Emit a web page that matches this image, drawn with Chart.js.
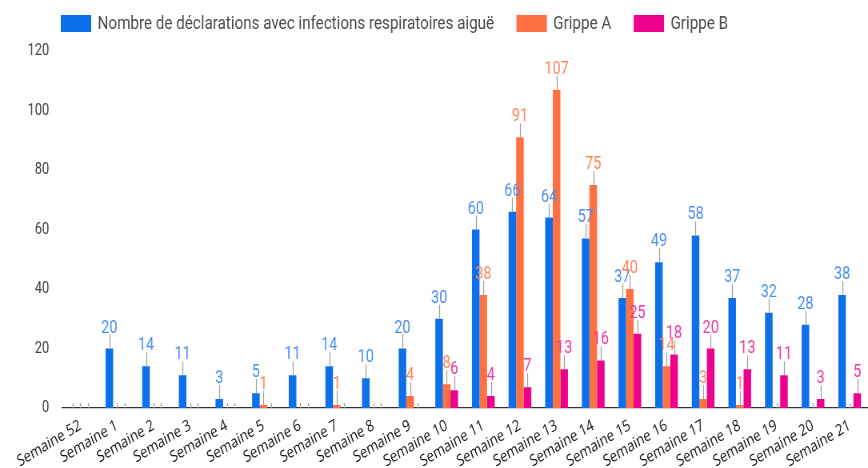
<!DOCTYPE html>
<html>
<head>
<meta charset="utf-8">
<script src="https://cdn.jsdelivr.net/npm/chart.js@4.4.1/dist/chart.umd.min.js"></script>
<style>
  html, body { margin: 0; padding: 0; background: #fff; overflow: hidden; }
</style>
</head>
<body>
<!-- the reference is squeezed horizontally, so the canvas is drawn wider and shown at 868px -->
<canvas id="grippe" width="1085" height="468" style="display:block;width:868px;height:468px"></canvas>
<script>
var semaines = ['Semaine 52', 'Semaine 1', 'Semaine 2', 'Semaine 3', 'Semaine 4', 'Semaine 5',
    'Semaine 6', 'Semaine 7', 'Semaine 8', 'Semaine 9', 'Semaine 10', 'Semaine 11',
    'Semaine 12', 'Semaine 13', 'Semaine 14', 'Semaine 15', 'Semaine 16', 'Semaine 17',
    'Semaine 18', 'Semaine 19', 'Semaine 20', 'Semaine 21'];
var declarations = [0, 20, 14, 11, 3, 5, 11, 14, 10, 20, 30, 60, 66, 64, 57, 37, 49, 58, 37, 32, 28, 38];
var grippeA = [0, 0, 0, 0, 0, 1, 0, 1, 0, 4, 8, 38, 91, 107, 75, 40, 14, 3, 1, 0, 0, 0];
var grippeB = [0, 0, 0, 0, 0, 0, 0, 0, 0, 0, 6, 4, 7, 13, 16, 25, 18, 20, 13, 11, 3, 5];
var yTicks = [0, 20, 40, 60, 80, 100, 120];

var barColors = ['#0b70ea', '#ff7043', '#ec008c'];
var labelColors = ['#4a8ff0', '#ff8660', '#f03a9e'];

// value labels sitting on a small grey stem above each bar
var stemLabels = {
    id: 'stemLabels',
    afterDatasetsDraw: function (chart) {
        var ctx = chart.ctx;
        chart.data.datasets.forEach(function (ds, i) {
            chart.getDatasetMeta(i).data.forEach(function (bar, j) {
                var v = ds.data[j];
                var stem = v ? 14 : 5;
                var x = Math.round(bar.x) + 0.5;
                ctx.save();
                ctx.strokeStyle = '#a0a0a0';
                ctx.lineWidth = 1.25;
                ctx.beginPath();
                ctx.moveTo(x, bar.y);
                ctx.lineTo(x, bar.y - stem);
                ctx.stroke();
                if (v) {
                    ctx.fillStyle = labelColors[i];
                    ctx.font = '18px Roboto';
                    ctx.textAlign = 'center';
                    ctx.textBaseline = 'alphabetic';
                    ctx.fillText(String(v), bar.x, bar.y - stem - 2);
                }
                ctx.restore();
            });
        });
    }
};

// legend drawn by hand so it can sit left, over the plot
var topLegend = {
    id: 'topLegend',
    afterDraw: function (chart) {
        var ctx = chart.ctx;
        var x = 76;
        ctx.save();
        ctx.font = '19px Roboto';
        ctx.textBaseline = 'middle';
        ctx.textAlign = 'left';
        chart.data.datasets.forEach(function (ds) {
            ctx.fillStyle = ds.backgroundColor;
            ctx.fillRect(x, 15, 38, 17);
            ctx.fillStyle = '#4a4a4a';
            ctx.fillText(ds.label, x + 46, 24);
            x += 46 + ctx.measureText(ds.label).width + 28;
        });
        ctx.restore();
    }
};

var ctx = document.getElementById('grippe');
var grippe = new Chart(ctx, {
    type: 'bar',
    data: {
        labels: semaines,
        datasets: [{
            label: 'Nombre de déclarations avec infections respiratoires aiguë',
            data: declarations,
            backgroundColor: barColors[0]
        }, {
            label: 'Grippe A',
            data: grippeA,
            backgroundColor: barColors[1]
        }, {
            label: 'Grippe B',
            data: grippeB,
            backgroundColor: barColors[2]
        }]
    },
    options: {
        responsive: false,
        devicePixelRatio: 1,
        animation: false,
        layout: { padding: { top: 51, left: 0, right: 0, bottom: 0 } },
        datasets: {
            bar: { categoryPercentage: 0.62, barPercentage: 1 }
        },
        plugins: {
            legend: { display: false },
            tooltip: { enabled: false }
        },
        scales: {
            x: {
                grid: { display: false, drawTicks: false },
                border: { display: true, color: '#333', width: 1.25 },
                ticks: {
                    autoSkip: false,
                    minRotation: 26,
                    maxRotation: 26,
                    padding: 8,
                    color: '#111',
                    font: { family: 'Open Sans', size: 16 }
                },
                afterFit: function (scale) { scale.height = 60; }
            },
            y: {
                min: yTicks[0],
                max: yTicks[yTicks.length - 1],
                grid: { display: false, drawTicks: false },
                border: { display: false },
                ticks: {
                    stepSize: yTicks[1] - yTicks[0],
                    padding: 16,
                    color: '#444',
                    font: { family: 'Roboto', size: 16 }
                },
                afterFit: function (scale) { scale.width = 77.5; }
            }
        }
    },
    plugins: [stemLabels, topLegend]
});
</script>
</body>
</html>
